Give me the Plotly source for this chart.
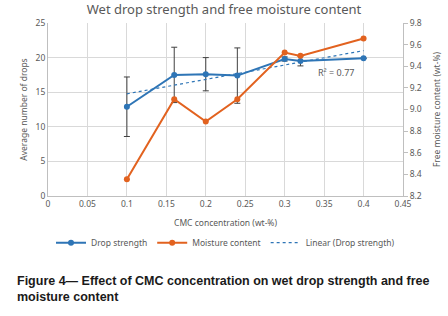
import numpy as np
import plotly.graph_objects as go

cmc = [0.1, 0.16, 0.2, 0.24, 0.3, 0.32, 0.4]
drops = [12.9, 17.5, 17.6, 17.4, 19.8, 19.5, 19.9]
drops_err = [4.3, 4.0, 2.4, 4.0, 0.3, 0.7, 0.0]
moisture = [8.355, 9.095, 8.888, 9.095, 9.527, 9.496, 9.657]

x_ticks = [0, 0.05, 0.1, 0.15, 0.2, 0.25, 0.3, 0.35, 0.4, 0.45]
x_tick_labels = ["0", "0.05", "0.1", "0.15", "0.2", "0.25", "0.3", "0.35", "0.4", "0.45"]

slope, intercept = np.polyfit(cmc, drops, 1)
pred = np.polyval([slope, intercept], cmc)
ss_res = np.sum((np.array(drops) - pred) ** 2)
ss_tot = np.sum((np.array(drops) - np.mean(drops)) ** 2)
r2 = 1 - ss_res / ss_tot
trend_x = [min(cmc), max(cmc)]
trend_y = list(np.polyval([slope, intercept], trend_x))

blue = "#2e75b6"
orange = "#e2621f"
gray = "#595959"
font = "Noto Sans"

fig = go.Figure()
fig.add_trace(go.Scatter(
    x=cmc, y=drops, name="Drop strength", mode="lines+markers",
    line=dict(color=blue, width=2), marker=dict(size=6, color=blue),
    error_y=dict(type="data", array=drops_err, color="#404040", thickness=1, width=3),
))
fig.add_trace(go.Scatter(
    x=cmc, y=moisture, name="Moisture content", mode="lines+markers", yaxis="y2",
    line=dict(color=orange, width=2), marker=dict(size=6, color=orange),
))
fig.add_trace(go.Scatter(
    x=trend_x, y=trend_y, name="Linear (Drop strength)", mode="lines",
    line=dict(color=blue, width=1.2, dash="dot"),
))

fig.add_annotation(x=0.34, y=17.8, xref="x", yref="y", text=f"R² = {r2:.2f}",
                   showarrow=False, font=dict(family=font, size=9, color=gray),
                   xanchor="left")

fig.add_annotation(
    x=0.0, y=0, xref="paper", yref="paper", xanchor="left", yanchor="top",
    xshift=-33, yshift=-76, align="left", showarrow=False,
    text="<b>Figure 4— Effect of CMC concentration on wet drop strength and free<br>moisture content</b>",
    font=dict(family="Liberation Sans", size=12.5, color="#1a1a1a"),
)

fig.update_layout(
    width=448, height=316,
    margin=dict(l=48, r=45, t=23, b=120, autoexpand=False),
    paper_bgcolor="white", plot_bgcolor="white",
    showlegend=True,
    title=dict(text="Wet drop strength and free moisture content", x=0.5, xanchor="center",
               y=0.985, yanchor="top", font=dict(family=font, size=13, color=gray)),
    legend=dict(orientation="h", x=0.5, xanchor="center", y=-0.27, yanchor="middle",
                font=dict(family=font, size=8.5, color=gray), itemwidth=30,
                tracegroupgap=0),
    xaxis=dict(range=[0, 0.45], tickvals=x_ticks, ticktext=x_tick_labels,
               showgrid=True, gridcolor="#d9d9d9", gridwidth=1, automargin=False,
               showline=True, linecolor="#bfbfbf", mirror=False, zeroline=False,
               tickfont=dict(family=font, size=8.5, color=gray), ticks="",
               title=dict(text="CMC concentration (wt-%)", standoff=11,
                          font=dict(family=font, size=8.5, color=gray))),
    yaxis=dict(range=[0, 25], dtick=5, showgrid=True, gridcolor="#d9d9d9",
               showline=True, linecolor="#bfbfbf", zeroline=False, automargin=False,
               tickfont=dict(family=font, size=8.5, color=gray), ticks="",
               title=dict(text="Average number of drops", standoff=6,
                          font=dict(family=font, size=8.5, color=gray))),
    yaxis2=dict(range=[8.2, 9.8], dtick=0.2, overlaying="y", side="right",
                showgrid=False, showline=True, linecolor="#bfbfbf", zeroline=False,
                ticks="outside", ticklen=4, tickcolor="#bfbfbf", tickformat=".1f",
                automargin=False,
                tickfont=dict(family=font, size=8.5, color=gray),
                title=dict(text="Free moisture content (wt-%)", standoff=13,
                           font=dict(family=font, size=8.5, color=gray))),
)

fig.write_html("out.html", config={"displayModeBar": False},
               post_script="document.body.style.margin='0';document.body.style.overflow='hidden';")
